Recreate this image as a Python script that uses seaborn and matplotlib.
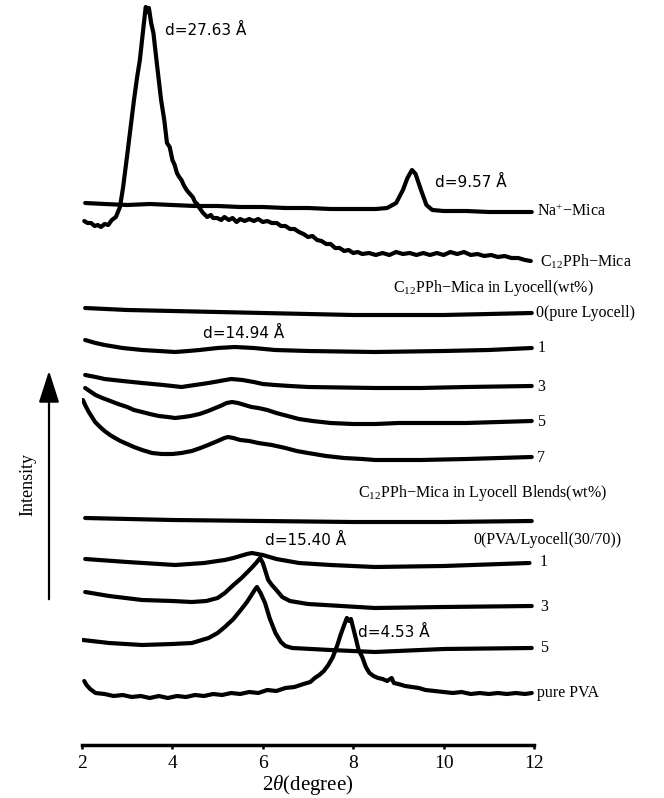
import numpy as np
import pandas as pd
import matplotlib
matplotlib.use("Agg")
import matplotlib.pyplot as plt
import seaborn as sns

sns.set_style("white")
plt.rcParams["font.family"] = ["Liberation Serif", "DejaVu Serif"]
plt.rcParams["mathtext.fontset"] = "custom"
plt.rcParams["mathtext.rm"] = "Liberation Serif"
plt.rcParams["mathtext.it"] = "Liberation Serif:italic"
plt.rcParams["text.color"] = "black"
plt.rcParams["xtick.color"] = "black"
plt.rcParams["axes.edgecolor"] = "black"
plt.rcParams["axes.labelcolor"] = "black"

# ---- data: 2theta (degree) and stacked intensity (a.u.) ----
na_x = [2.07, 2.5, 3.0, 3.5, 4.0, 4.5, 5.0, 5.5, 6.0, 6.5, 7.0, 7.5, 8.0, 8.5, 8.75, 8.95,
        9.1, 9.2, 9.3, 9.38, 9.5, 9.62, 9.75, 10.0, 10.5, 11.0, 11.5, 11.95]
na_y = [542, 541, 540, 541, 540, 539, 539, 538, 538, 537, 537, 536, 536, 536, 537, 542,
        555, 567, 575, 571, 555, 540, 535, 534, 534, 533, 533, 533]

c12_x = [2.05, 2.12, 2.2, 2.28, 2.35, 2.42, 2.5, 2.58, 2.66, 2.75, 2.84, 2.91, 3.0, 3.06,
         3.15, 3.22, 3.28, 3.36, 3.41, 3.44, 3.48, 3.53, 3.58, 3.66, 3.75, 3.82, 3.88, 3.94,
         4.0, 4.05, 4.1, 4.15, 4.2, 4.25, 4.3, 4.35, 4.39, 4.45, 4.5, 4.55, 4.6, 4.68, 4.77,
         4.85, 4.9, 4.99, 5.08, 5.15, 5.25, 5.33, 5.42, 5.5, 5.6, 5.7, 5.8, 5.9, 6.0, 6.1,
         6.2, 6.31, 6.4, 6.5, 6.6, 6.7, 6.8, 6.9, 7.0, 7.1, 7.2, 7.3, 7.4, 7.5, 7.6, 7.7,
         7.8, 7.9, 8.0, 8.1, 8.2, 8.35, 8.5, 8.65, 8.8, 8.95, 9.1, 9.25, 9.4, 9.55, 9.7,
         9.85, 10.0, 10.15, 10.3, 10.45, 10.6, 10.75, 10.9, 11.05, 11.2, 11.35, 11.5, 11.65,
         11.8, 11.93]
c12_y = [524, 522, 522, 519, 520, 518, 521, 520, 525, 528, 538, 558, 590, 612,
         645, 668, 685, 718, 738, 733, 737, 722, 712, 680, 645, 625, 602, 598,
         585, 580, 572, 568, 565, 560, 556, 553, 551, 548, 543, 541, 537, 532, 528,
         530, 527, 527, 525, 528, 525, 527, 523, 526, 524, 526, 524, 526, 523, 524,
         522, 522, 519, 519, 516, 516, 513, 511, 508, 509, 505, 504, 501, 501, 497, 497,
         494, 495, 492, 493, 491, 492, 490, 492, 490, 493, 491, 492, 490, 492, 490,
         492, 490, 493, 491, 493, 490, 491, 489, 490, 488, 489, 487, 487,
         485, 484]

ly0_x = [2.07, 3.0, 4.0, 5.0, 6.0, 7.0, 8.0, 9.0, 10.0, 11.0, 11.95]
ly0_y = [437, 435, 434, 433, 432, 431, 430, 430, 430, 431, 432]

ly1_x = [2.07, 2.3, 2.5, 2.9, 3.33, 3.7, 4.06, 4.35, 4.6, 5.0, 5.38, 5.8, 6.27, 7.0,
         8.48, 10.0, 11.0, 11.95]
ly1_y = [405, 402, 400, 397, 395, 394, 393, 394, 395, 397, 398, 397, 395, 394,
         393, 394, 395, 397]

ly3_x = [2.07, 2.3, 2.5, 2.9, 3.33, 3.8, 4.2, 4.5, 4.8, 5.05, 5.3, 5.55, 5.8, 6.0, 6.27,
         6.6, 7.0, 8.48, 9.5, 10.5, 11.95]
ly3_y = [370, 368, 366, 364, 362, 360, 358, 360, 362, 364, 366, 365, 363, 361, 360,
         359, 358, 357, 357, 358, 359]

ly5_x = [2.07, 2.2, 2.3, 2.45, 2.57, 2.8, 3.0, 3.15, 3.33, 3.5, 3.7, 3.9, 4.06, 4.25,
         4.4, 4.6, 4.79, 4.95, 5.06, 5.2, 5.32, 5.45, 5.6, 5.75, 5.9, 6.1, 6.3, 6.55,
         6.8, 7.1, 7.5, 8.0, 8.5, 9.0, 10.0, 10.5, 11.95]
ly5_y = [357, 353, 350, 347, 345, 341, 338, 335, 333, 331, 329, 328, 327, 328,
         329, 331, 334, 337, 339, 342, 343, 342, 340, 338, 337, 335, 332, 329,
         326, 324, 322, 321, 321, 322, 322, 322, 324]

ly7_x = [2.02, 2.08, 2.15, 2.22, 2.29, 2.4, 2.5, 2.62, 2.73, 2.85, 3.0, 3.15, 3.33, 3.55,
         3.77, 4.0, 4.2, 4.43, 4.62, 4.79, 5.0, 5.15, 5.23, 5.35, 5.5, 5.7, 5.9, 6.2,
         6.5, 6.75, 7.0, 7.4, 7.8, 8.2, 8.48, 9.0, 9.5, 10.5, 11.95]
ly7_y = [345, 339, 333, 328, 323, 318, 314, 310, 307, 304, 301, 298, 295, 292,
         291, 291, 292, 294, 297, 300, 304, 307, 308, 307, 305, 304, 302, 300,
         297, 294, 292, 289, 287, 286, 285, 285, 285, 286, 288]

bl0_x = [2.07, 4.0, 6.0, 8.0, 10.0, 11.95]
bl0_y = [227, 225, 224, 223, 223, 224]

bl1_x = [2.07, 3.0, 4.06, 4.7, 5.0, 5.16, 5.35, 5.5, 5.65, 5.76, 5.88, 6.0, 6.15, 6.3,
         6.55, 6.8, 7.5, 8.48, 10.0, 11.9]
bl1_y = [186, 183, 180, 182, 184, 185, 187, 189, 191, 192, 191, 190, 188, 186,
         184, 182, 180, 178, 179, 182]

bl3_x = [2.07, 2.6, 3.33, 4.0, 4.43, 4.75, 5.0, 5.16, 5.35, 5.53, 5.75, 5.85, 5.94, 6.0,
         6.05, 6.12, 6.2, 6.3, 6.43, 6.6, 7.0, 8.48, 10.0, 11.95]
bl3_y = [153, 149, 145, 144, 143, 144, 147, 152, 160, 167, 177, 182, 187, 182,
         175, 165, 160, 155, 148, 144, 141, 137, 138, 139]

bl5_x = [2.02, 2.6, 3.33, 4.0, 4.43, 4.8, 5.0, 5.16, 5.35, 5.53, 5.65, 5.75, 5.82, 5.87,
         5.95, 6.05, 6.15, 6.28, 6.4, 6.5, 6.65, 7.5, 8.48, 10.0, 11.95]
bl5_y = [105, 102, 100, 101, 102, 107, 112, 118, 126, 136, 143, 150, 155, 158,
         152, 142, 127, 112, 103, 99, 97, 95, 93, 96, 97]

pva_x = [2.05, 2.1, 2.18, 2.3, 2.5, 2.7, 2.9, 3.1, 3.3, 3.5, 3.7, 3.9, 4.1, 4.3, 4.5, 4.7,
         4.9, 5.1, 5.3, 5.5, 5.7, 5.9, 6.1, 6.3, 6.5, 6.7, 6.9, 7.05, 7.15, 7.25, 7.35,
         7.45, 7.55, 7.65, 7.72, 7.8, 7.86, 7.91, 7.95, 8.0, 8.05, 8.12, 8.2, 8.28, 8.36,
         8.45, 8.55, 8.65, 8.75, 8.85, 8.9, 9.0, 9.15, 9.3, 9.45, 9.6, 9.8, 10.0, 10.2,
         10.4, 10.6, 10.8, 11.0, 11.2, 11.4, 11.6, 11.8, 11.95]
pva_y = [64, 60, 56, 52, 51, 49, 50, 48, 49, 47, 49, 47, 49, 48, 50, 49,
         51, 50, 52, 51, 53, 52, 55, 54, 57, 58, 61, 63, 67, 70, 74,
         80, 88, 100, 110, 120, 127, 124, 126, 117, 108, 95, 88, 78, 72,
         69, 67, 66, 64, 67, 62, 61, 59, 58, 57, 55, 54, 53, 52,
         53, 51, 52, 51, 52, 51, 52, 51, 52]

series = [
    ("Na+-Mica", na_x, na_y),
    ("C12PPh-Mica", c12_x, c12_y),
    ("Lyocell 0", ly0_x, ly0_y),
    ("Lyocell 1", ly1_x, ly1_y),
    ("Lyocell 3", ly3_x, ly3_y),
    ("Lyocell 5", ly5_x, ly5_y),
    ("Lyocell 7", ly7_x, ly7_y),
    ("Blend 0", bl0_x, bl0_y),
    ("Blend 1", bl1_x, bl1_y),
    ("Blend 3", bl3_x, bl3_y),
    ("Blend 5", bl5_x, bl5_y),
    ("pure PVA", pva_x, pva_y),
]

xticks = [2, 4, 6, 8, 10, 12]

# ---- figure ----
W, H = 664, 798
fig = plt.figure(figsize=(W / 100, H / 100), dpi=100)
ax = fig.add_axes([82 / W, 1 - 745 / H, (534 - 82) / W, 745 / H])

for name, xs, ys in series:
    df = pd.DataFrame({"x": xs, "y": ys})
    sns.lineplot(data=df, x="x", y="y", ax=ax, color="black", lw=3.0,
                 estimator=None, sort=False)

ax.set_xlim(2, 12)
ax.set_ylim(0, 745)
ax.set_yticks([])
ax.set_xticks(xticks)
ax.set_xticklabels([str(t) for t in xticks], fontsize=14)
ax.tick_params(axis="x", bottom=True, direction="out", length=3, width=1.8, pad=4,
               colors="black")
for s in ["top", "right", "left"]:
    ax.spines[s].set_visible(False)
ax.spines["bottom"].set_linewidth(2.5)
ax.spines["bottom"].set_color("black")
ax.set_xlabel(r"2$\theta$(degree)", fontsize=15, labelpad=1)
ax.set_ylabel("")

serif = dict(fontsize=11.5, va="center", ha="left", clip_on=False)
sans = dict(fontsize=11, va="center", ha="left", family=["DejaVu Sans"], clip_on=False)

# d-spacing annotations
ax.text(3.84, 715, "d=27.63 Å", **sans)
ax.text(9.81, 563, "d=9.57 Å", **sans)
ax.text(4.68, 412, "d=14.94 Å", **sans)
ax.text(6.05, 205, "d=15.40 Å", **sans)
ax.text(8.1, 113, "d=4.53 Å", **sans)

# curve labels
ax.text(12.07, 533, r"Na$^{+}$−Mica", **serif)
ax.text(12.13, 483, r"C$_{12}$PPh−Mica", **serif)
ax.text(8.88, 457, r"C$_{12}$PPh−Mica in Lyocell(wt%)", **serif)
ax.text(12.05, 432, "0(pure Lyocell)", **serif)
ax.text(12.07, 397, "1", **serif)
ax.text(12.07, 358, "3", **serif)
ax.text(12.07, 323, "5", **serif)
ax.text(12.07, 287, "7", **serif)
ax.text(8.1, 252, r"C$_{12}$PPh−Mica in Lyocell Blends(wt%)", **serif)
ax.text(10.65, 205, "0(PVA/Lyocell(30/70))", **serif)
ax.text(12.13, 183, "1", **serif)
ax.text(12.13, 138, "3", **serif)
ax.text(12.13, 97, "5", **serif)
ax.text(12.07, 52, "pure PVA", **serif)

# intensity arrow
fig.add_artist(matplotlib.patches.FancyArrowPatch(
    (49 / W, 1 - 602 / H), (49 / W, 1 - 368 / H), transform=fig.transFigure,
    arrowstyle="-|>,head_length=1.4,head_width=0.45", mutation_scale=14,
    color="black", lw=1.6))
fig.text(28 / W, 1 - 485 / H, "Intensity", rotation=90, fontsize=13,
         ha="center", va="center")

fig.savefig("out.png", dpi=100)
